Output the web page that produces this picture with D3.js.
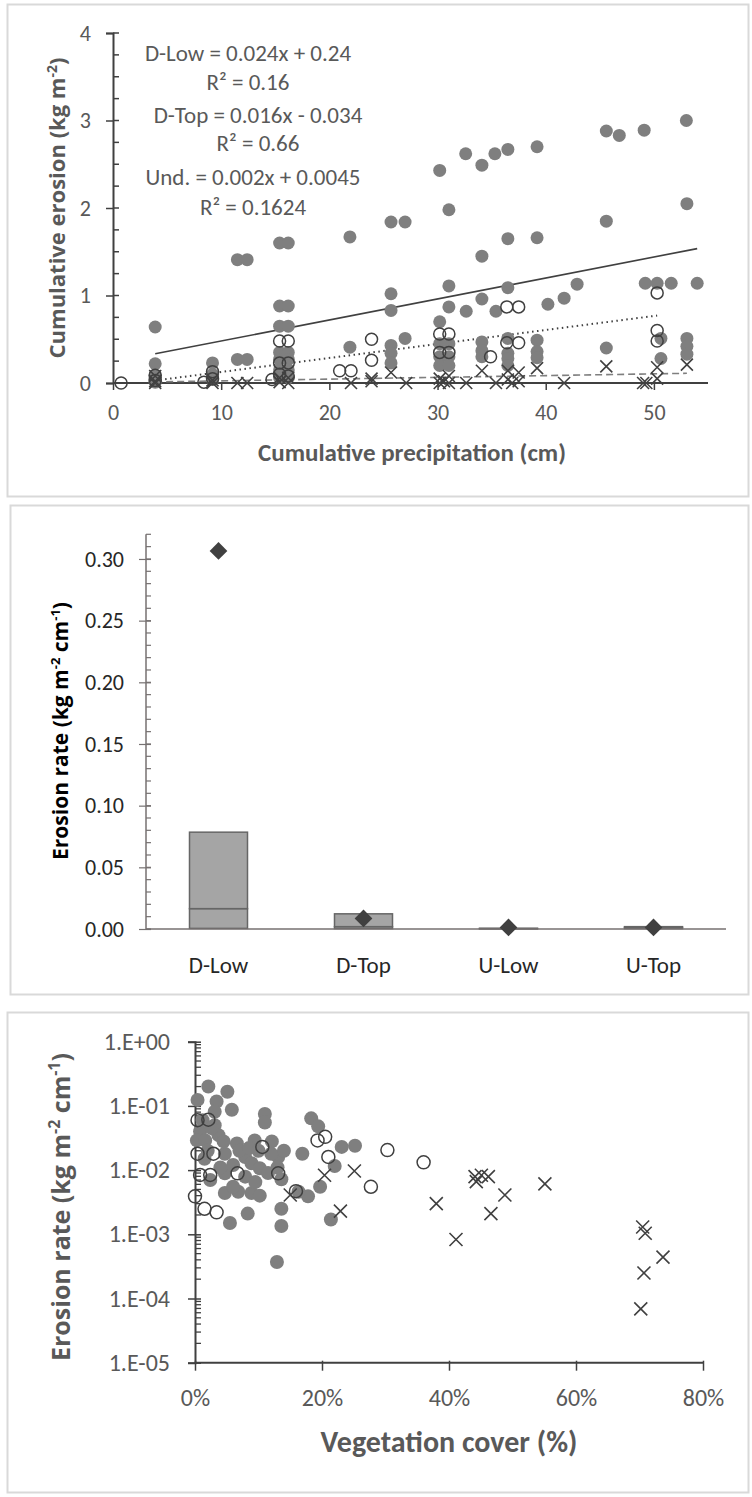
<!DOCTYPE html>
<html>
<head>
<meta charset="utf-8">
<script src="https://cdn.jsdelivr.net/npm/d3@7"></script>
<style>
  body { margin: 0; background: #fff; }
  .narrow { font-family: Carlito, "Liberation Sans Narrow", "Arial Narrow", sans-serif; }
  .wide { font-family: "Open Sans", "DejaVu Sans", sans-serif; }
</style>
</head>
<body>
<svg id="chart" width="752" height="1497"></svg>
<script>

/*************************** Data : cumulative erosion ***************************/

var dLowCum = [[3.9,0.64],[3.9,0.22],[3.9,0.08],[3.9,0.04],[3.9,0.01],[9.2,0.23],[9.2,0.1],[9.2,0.04],
  [11.5,1.41],[12.4,1.41],[11.5,0.27],[12.4,0.27],[15.4,1.6],[16.2,1.6],[15.4,0.88],[16.2,0.88],[15.4,0.65],[16.2,0.65],
  [15.4,0.35],[16.2,0.35],[15.4,0.27],[16.2,0.27],[15.4,0.15],[16.2,0.15],[15.4,0.06],[16.2,0.06],[21.9,1.67],[21.9,0.41],
  [25.7,1.84],[27.0,1.84],[25.7,1.02],[25.7,0.83],[25.7,0.43],[25.7,0.34],[25.7,0.23],[27.0,0.51],
  [30.2,2.43],[31.05,1.98],[30.2,0.7],[31.05,1.11],[31.05,0.87],[30.2,0.45],[31.05,0.45],[30.2,0.3],[31.05,0.3],[30.2,0.2],[31.05,0.2],
  [32.6,2.62],[32.65,0.82],[34.1,2.49],[34.1,1.45],[34.1,0.96],[34.1,0.47],[34.1,0.37],[34.1,0.3],[35.3,2.62],[35.4,0.82],
  [36.5,2.67],[36.5,1.65],[36.5,1.09],[36.5,0.51],[36.5,0.34],[36.5,0.28],[36.5,0.2],[39.2,2.7],[39.2,1.66],[39.2,0.49],[39.2,0.36],[39.2,0.29],
  [40.2,0.9],[41.7,0.97],[42.9,1.13],[45.6,2.88],[45.6,1.85],[45.6,0.4],[46.8,2.83],[49.1,2.89],[49.2,1.14],[50.3,1.14],[51.6,1.14],
  [50.65,0.51],[50.65,0.28],[53.0,3.0],[53.05,2.05],[53.05,0.51],[53.05,0.42],[53.05,0.33],[54.0,1.14]];

var dTopCum = [[0.75,0],[3.9,0.09],[3.9,0.03],[8.4,0.01],[9.2,0.13],[9.2,0.05],[14.7,0.04],[15.4,0.48],[16.2,0.48],
  [15.4,0.23],[16.2,0.23],[15.4,0.1],[16.2,0.08],[20.95,0.14],[22.0,0.14],[23.9,0.5],[23.9,0.26],[30.2,0.56],[31.05,0.56],
  [30.2,0.35],[31.05,0.35],[34.9,0.3],[36.4,0.87],[37.5,0.87],[36.4,0.46],[37.5,0.46],[50.3,1.03],[50.3,0.6],[50.3,0.48]];

var undCum = [[3.9,0.08],[3.9,0.02],[3.9,0],[9.2,0.03],[9.2,0],[11.5,0],[12.4,0],[15.4,0.06],[16.2,0.06],[15.4,0.01],[16.2,0],
  [22.0,0],[23.9,0.05],[23.9,0.02],[25.7,0.12],[27.1,0],[30.2,0.05],[31.05,0.08],[30.2,0],[31.05,0],[30.6,0.02],[32.65,0],
  [34.1,0.14],[35.4,0],[36.5,0.14],[37.5,0.12],[36.5,0.04],[37.5,0.02],[36.9,0],[39.2,0.17],[41.7,0],[45.6,0.19],[49.0,0],[49.3,0],
  [50.3,0.18],[50.3,0.05],[53.05,0.21]];

// trendline slope / intercept, as printed on the chart
var fitDLow = [0.024, 0.24];
var fitDTop = [0.016, -0.034];
var fitUnd = [0.002, 0.0045];
var fitLabels = ["D-Low = 0.024x + 0.24", "R² = 0.16", "D-Top = 0.016x - 0.034", "R² = 0.66", "Und. = 0.002x + 0.0045", "R² = 0.1624"];

var cumXTicks = [0, 10, 20, 30, 40, 50];
var cumYTicks = [0, 1, 2, 3, 4];

/*************************** Data : erosion rate per site ***************************/

var sites = ["D-Low", "D-Top", "U-Low", "U-Top"];
var rateQ1 = [0.0005, 0.0003, 0.0001, 0.0003];
var rateMedian = [0.0165, 0.0019, 0.0003, 0.0012];
var rateQ3 = [0.0785, 0.0123, 0.0006, 0.0019];
var rateMarker = [0.3065, 0.0086, 0.0013, 0.0013];
var rateYTicks = [0, 0.05, 0.10, 0.15, 0.20, 0.25, 0.30];

/*************************** Data : erosion rate vs vegetation ***************************/

var dLowVeg = [[0.021,0.20],[0.051,0.166],[0.004,0.124],[0.034,0.117],[0.058,0.087],[0.031,0.081],[0.11,0.075],[0.11,0.055],
  [0.183,0.064],[0.194,0.048],[0.031,0.050],[0.008,0.040],[0.037,0.035],[0.003,0.029],[0.016,0.029],[0.066,0.026],[0.094,0.029],
  [0.121,0.028],[0.231,0.023],[0.252,0.024],[0.169,0.018],[0.131,0.016],[0.047,0.018],[0.079,0.016],[0.089,0.0128],[0.102,0.0107],
  [0.22,0.0116],[0.047,0.0089],[0.024,0.0070],[0.079,0.0079],[0.136,0.0072],[0.197,0.0055],[0.178,0.0039],[0.047,0.0044],
  [0.068,0.0046],[0.089,0.0044],[0.102,0.0040],[0.163,0.0046],[0.136,0.0025],[0.083,0.0021],[0.055,0.0015],[0.136,0.00135],
  [0.214,0.0017],[0.129,0.00037],[0.012,0.06],[0.026,0.045],[0.045,0.028],[0.07,0.02],[0.085,0.022],[0.10,0.02],[0.12,0.018],
  [0.06,0.012],[0.015,0.015],[0.04,0.011],[0.14,0.02],[0.115,0.009],[0.095,0.0065],[0.02,0.02],[0.06,0.0055],[0.13,0.011]];

var dTopVeg = [[0.004,0.060],[0.021,0.061],[0.004,0.018],[0.029,0.018],[0.008,0.0084],[0.024,0.0084],[0.067,0.0089],
  [0.106,0.023],[0.131,0.0089],[0.0,0.0039],[0.015,0.0025],[0.034,0.0022],[0.159,0.0047],[0.193,0.029],[0.205,0.033],
  [0.21,0.016],[0.277,0.0055],[0.303,0.0205],[0.36,0.0132]];

var undVeg = [[0.15,0.0041],[0.204,0.0083],[0.251,0.0097],[0.229,0.0023],[0.38,0.0030],[0.411,0.00083],[0.441,0.0079],
  [0.443,0.0066],[0.451,0.0083],[0.462,0.0079],[0.488,0.0041],[0.466,0.0021],[0.551,0.0061],[0.705,0.0013],[0.709,0.00104],
  [0.737,0.00044],[0.707,0.00025],[0.702,0.000069]];

var vegXTicks = [0, 0.2, 0.4, 0.6, 0.8];
var vegYTicks = [1, 0.1, 0.01, 0.001, 0.0001, 0.00001];

/***********************************************************************************/

var svg = d3.select("#chart");
var gray_fill = "#7f7f7f", dark = "#404040", label_gray = "#595959";

// frames around the three charts
[[7, 4, 741, 492], [10, 505, 738, 489], [7, 1012, 741, 480]].forEach(function(b){
  svg.append("rect").attr("x", b[0]+0.5).attr("y", b[1]+0.5).attr("width", b[2]).attr("height", b[3])
    .style("fill", "none").style("stroke", "#d9d9d9").style("stroke-width", 2);
});

function drawX(g, x, y, d, s){
  g.append("path").attr("d", "M"+(x(d[0])-s)+","+(y(d[1])-s)+"L"+(x(d[0])+s)+","+(y(d[1])+s)+"M"+(x(d[0])-s)+","+(y(d[1])+s)+"L"+(x(d[0])+s)+","+(y(d[1])-s))
    .style("stroke", dark).style("stroke-width", 1.6).style("fill", "none");
}

/*************************** Chart 1 : cumulative erosion ***************************/

var g1 = svg.append("g");
var x1 = d3.scaleLinear().domain([0, 55]).range([113, 708]);
var y1 = d3.scaleLinear().domain([0, 4]).range([383, 33]);

// minor ticks on y
d3.range(0, 4.01, 0.25).forEach(function(v){
  g1.append("line").attr("x1", x1(0)).attr("x2", x1(0)+6).attr("y1", y1(v)).attr("y2", y1(v)).style("stroke", dark).style("stroke-width", 1.5);
});
var ay1 = g1.append("g").attr("transform", "translate("+x1(0)+",0)")
  .call(d3.axisLeft(y1).tickValues(cumYTicks).tickFormat(d3.format("d")).tickSize(7).tickPadding(15));
var ax1 = g1.append("g").attr("transform", "translate(0,"+y1(0)+")")
  .call(d3.axisBottom(x1).tickValues(cumXTicks).tickSize(7).tickPadding(14));
[ay1, ax1].forEach(function(a){
  a.select(".domain").style("stroke", dark).style("stroke-width", 2);
  a.selectAll(".tick line").style("stroke", dark).style("stroke-width", 1.5);
  a.selectAll("text").attr("class", "narrow").style("font-size", "22px").style("fill", label_gray);
});
ay1.selectAll(".tick line").attr("x2", -7).attr("x1", 0);
ax1.select(".domain").attr("d", "M"+x1(0)+",0H"+x1(55));

// trend lines, clipped to the plot area
svg.append("clipPath").attr("id", "clip1").append("rect").attr("x", 113).attr("y", 33).attr("width", 595).attr("height", 350);
[[dLowCum, fitDLow, null], [dTopCum, fitDTop, "1.5,3.5"], [undCum, fitUnd, "7,4"]].forEach(function(t){
  var ext = d3.extent(t[0], function(d){ return d[0]; });
  if(t[1] == fitDTop || t[1] == fitUnd){ ext[0] = 3.9; }
  g1.append("line").attr("clip-path", "url(#clip1)")
    .attr("x1", x1(ext[0])).attr("y1", y1(t[1][0]*ext[0]+t[1][1]))
    .attr("x2", x1(ext[1])).attr("y2", y1(t[1][0]*ext[1]+t[1][1]))
    .style("stroke", t[1] == fitUnd ? "#7f7f7f" : dark).style("stroke-width", t[1] == fitDTop ? 2 : 1.6)
    .style("stroke-dasharray", t[2]);
});

g1.selectAll("circle.dlow").data(dLowCum).enter().append("circle").attr("class", "dlow")
  .attr("cx", function(d){ return x1(d[0]); }).attr("cy", function(d){ return y1(d[1]); }).attr("r", 6.5)
  .style("fill", gray_fill);
g1.selectAll("circle.dtop").data(dTopCum).enter().append("circle").attr("class", "dtop")
  .attr("cx", function(d){ return x1(d[0]); }).attr("cy", function(d){ return y1(d[1]); }).attr("r", 6)
  .style("fill", "none").style("stroke", dark).style("stroke-width", 1.5);
undCum.forEach(function(d){ drawX(g1, x1, y1, d, 6); });

// equations
var eqPos = [[248, 61], [248, 90], [258, 123], [258, 151], [253, 185], [253, 215]];
fitLabels.forEach(function(t, i){
  g1.append("text").attr("class", "narrow").attr("x", eqPos[i][0]).attr("y", eqPos[i][1])
    .attr("text-anchor", "middle").style("font-size", "23px").style("fill", label_gray).text(t);
});

var t1 = g1.append("text").attr("class", "wide").attr("transform", "translate(65,208) rotate(-90)")
  .attr("text-anchor", "middle").style("font-size", "22px").style("font-weight", "bold").style("fill", label_gray);
t1.append("tspan").text("Cumulative erosion (kg m");
t1.append("tspan").attr("dy", -8).style("font-size", "14px").text("-2");
t1.append("tspan").attr("dy", 8).text(")");
g1.append("text").attr("class", "narrow").attr("x", 412).attr("y", 461).attr("text-anchor", "middle")
  .style("font-size", "25px").style("font-weight", "bold").style("fill", label_gray).text("Cumulative precipitation (cm)");

/*************************** Chart 2 : erosion rate per site ***************************/

var g2 = svg.append("g");
var x2 = d3.scaleBand().domain(sites).range([146, 726]);
var y2 = d3.scaleLinear().domain([0, 0.32]).range([929, 534.3]);
var axis_col = "#767171";

d3.range(0, 0.3201, 0.01).forEach(function(v){
  g2.append("line").attr("x1", x2.range()[0]).attr("x2", x2.range()[0]+5).attr("y1", y2(v)).attr("y2", y2(v)).style("stroke", axis_col).style("stroke-width", 1.2);
});
var ay2 = g2.append("g").attr("transform", "translate("+x2.range()[0]+",0)")
  .call(d3.axisLeft(y2).tickValues(rateYTicks).tickFormat(d3.format(".2f")).tickSize(7).tickPadding(15));
ay2.select(".domain").attr("d", "M0,"+y2(0.32)+"V"+y2(0)).style("stroke", axis_col).style("stroke-width", 1.5);
ay2.selectAll(".tick line").attr("x1", 5).style("stroke", axis_col).style("stroke-width", 1.2);
ay2.selectAll("text").attr("class", "narrow").style("font-size", "22px").style("fill", "#262626");

var bw = x2.bandwidth()*0.4;
sites.forEach(function(s, i){
  var cx = x2(s)+x2.bandwidth()/2;
  [[rateQ1[i], rateMedian[i]], [rateMedian[i], rateQ3[i]]].forEach(function(seg){
    g2.append("rect").attr("x", cx-bw/2).attr("width", bw).attr("y", y2(seg[1])).attr("height", y2(seg[0])-y2(seg[1]))
      .style("fill", "#a5a5a5").style("stroke", "#666666").style("stroke-width", 1.5);
  });
});
g2.append("line").attr("x1", x2.range()[0]).attr("x2", x2.range()[1]).attr("y1", y2(0)).attr("y2", y2(0))
  .style("stroke", axis_col).style("stroke-width", 1.5);
g2.selectAll("path.diamond").data(rateMarker).enter().append("path").attr("class", "diamond")
  .attr("d", d3.symbol().type(d3.symbolDiamond2).size(200))
  .attr("transform", function(d, i){ return "translate("+(x2(sites[i])+x2.bandwidth()/2)+","+y2(d)+")"; })
  .style("fill", dark);

sites.forEach(function(s){
  g2.append("text").attr("class", "narrow").attr("x", x2(s)+x2.bandwidth()/2).attr("y", 973).attr("text-anchor", "middle")
    .style("font-size", "23px").style("fill", "#262626").text(s);
});
var t2 = g2.append("text").attr("class", "wide").attr("transform", "translate(68,731) rotate(-90)")
  .attr("text-anchor", "middle").style("font-size", "21px").style("font-weight", "bold").style("fill", "#000");
t2.append("tspan").text("Erosion rate (kg m");
t2.append("tspan").attr("dy", -8).style("font-size", "13px").text("-2");
t2.append("tspan").attr("dy", 8).text(" cm");
t2.append("tspan").attr("dy", -8).style("font-size", "13px").text("-1");
t2.append("tspan").attr("dy", 8).text(")");

/*************************** Chart 3 : rate vs vegetation cover ***************************/

var g3 = svg.append("g");
var x3 = d3.scaleLinear().domain([0, 0.8]).range([195, 703]);
var y3 = d3.scaleLog().domain([1e-5, 1]).range([1362.7, 1041.7]);

[1e-5, 1e-4, 1e-3, 1e-2, 1e-1].forEach(function(dec){
  d3.range(2, 10).forEach(function(m){
    g3.append("line").attr("x1", x3(0)).attr("x2", x3(0)+6).attr("y1", y3(dec*m)).attr("y2", y3(dec*m)).style("stroke", dark).style("stroke-width", 1.3);
  });
});
var ay3 = g3.append("g").attr("transform", "translate("+x3(0)+",0)")
  .call(d3.axisLeft(y3).tickValues(vegYTicks).tickFormat(function(d){ return d3.format(".0e")(d).replace("e", ".E").replace(/([+-])(\d)$/, "$10$2"); }).tickSize(7).tickPadding(18));
var ax3 = g3.append("g").attr("transform", "translate(0,"+y3(1e-5)+")")
  .call(d3.axisBottom(x3).tickValues(vegXTicks).tickFormat(d3.format(".0%")).tickSize(8).tickPadding(18));
[ay3, ax3].forEach(function(a){
  a.select(".domain").style("stroke", dark).style("stroke-width", 2);
  a.selectAll(".tick line").style("stroke", dark).style("stroke-width", 1.5);
  a.selectAll("text").attr("class", "narrow").style("font-size", "24px").style("fill", label_gray);
});
ay3.selectAll(".tick line").attr("x1", 6);
ax3.select(".domain").attr("d", "M"+x3(0)+",0H"+x3(0.8));
ax3.selectAll(".tick line").attr("y1", -2);

g3.selectAll("circle.dlow").data(dLowVeg).enter().append("circle").attr("class", "dlow")
  .attr("cx", function(d){ return x3(d[0]); }).attr("cy", function(d){ return y3(d[1]); }).attr("r", 7)
  .style("fill", gray_fill);
g3.selectAll("circle.dtop").data(dTopVeg).enter().append("circle").attr("class", "dtop")
  .attr("cx", function(d){ return x3(d[0]); }).attr("cy", function(d){ return y3(d[1]); }).attr("r", 6.5)
  .style("fill", "none").style("stroke", dark).style("stroke-width", 1.5);
undVeg.forEach(function(d){ drawX(g3, x3, y3, d, 6.5); });

var t3 = g3.append("text").attr("class", "wide").attr("transform", "translate(70,1207) rotate(-90)")
  .attr("text-anchor", "middle").style("font-size", "25px").style("font-weight", "bold").style("fill", label_gray);
t3.append("tspan").text("Erosion rate (kg m");
t3.append("tspan").attr("dy", -10).style("font-size", "16px").text("-2");
t3.append("tspan").attr("dy", 10).text(" cm");
t3.append("tspan").attr("dy", -10).style("font-size", "16px").text("-1");
t3.append("tspan").attr("dy", 10).text(")");
g3.append("text").attr("class", "narrow").attr("x", 449).attr("y", 1452).attr("text-anchor", "middle")
  .style("font-size", "30px").style("font-weight", "bold").style("fill", label_gray).text("Vegetation cover (%)");

</script>
</body>
</html>
